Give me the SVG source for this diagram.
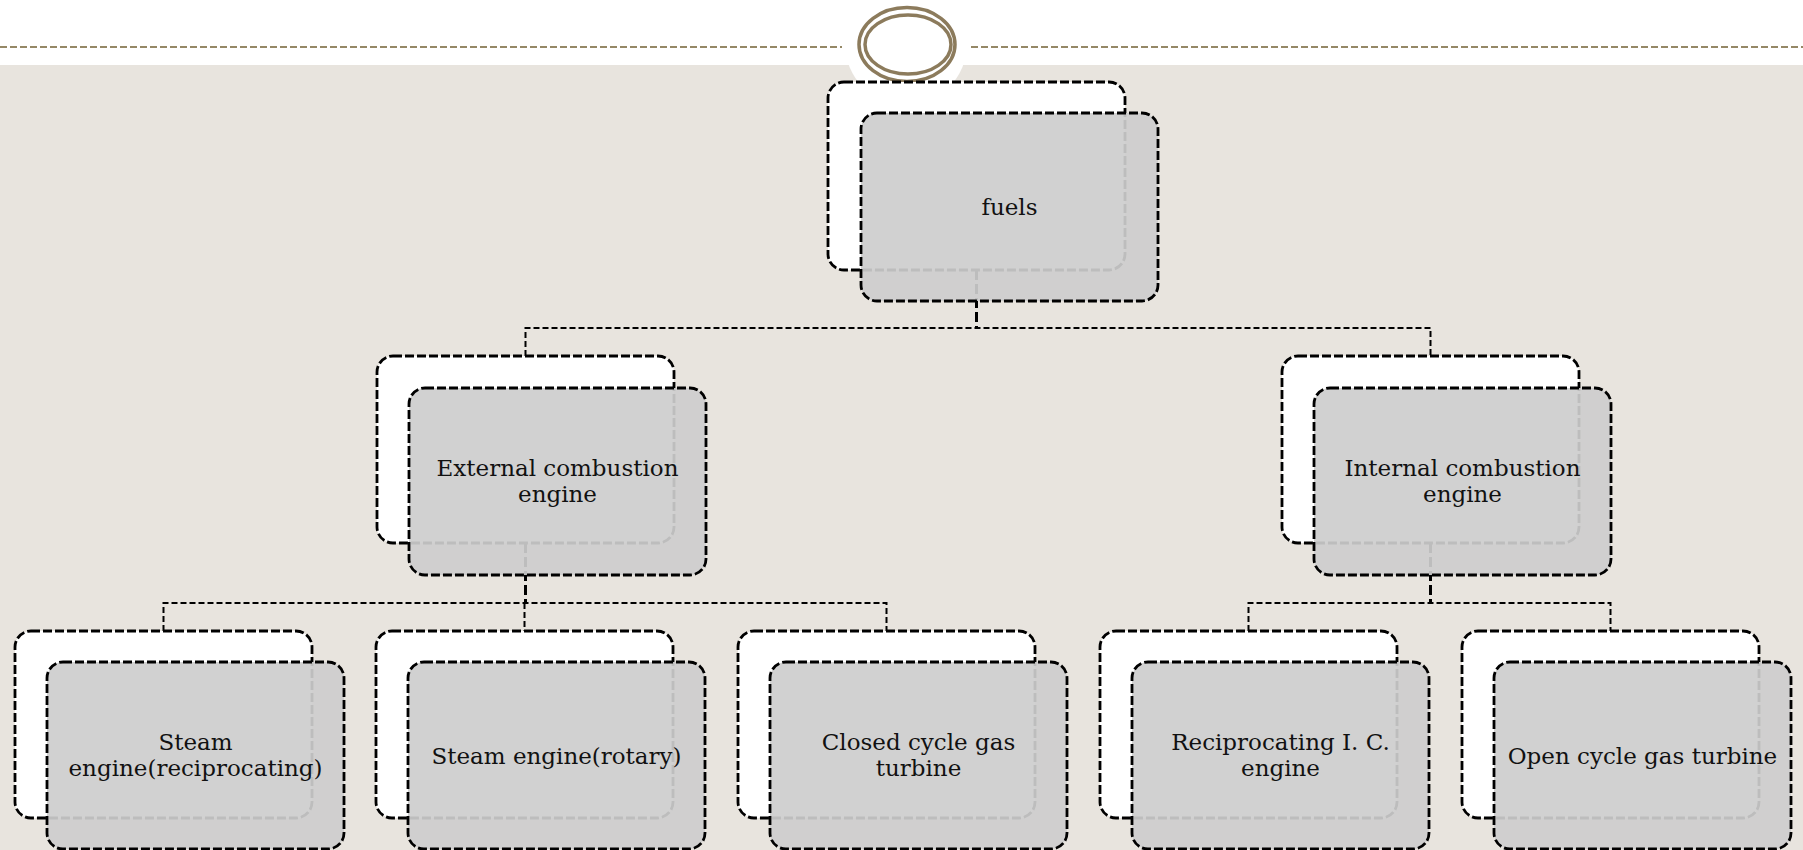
<svg xmlns="http://www.w3.org/2000/svg" width="1803" height="850" viewBox="0 0 1803 850">
<style>
.back{fill:#ffffff;stroke:#000;stroke-width:2.8;stroke-dasharray:9 3}
.front{fill:#cdcdcd;fill-opacity:0.92;stroke:#000;stroke-width:2.8;stroke-dasharray:9 3}
.conn{fill:none;stroke:#000;stroke-width:2;stroke-dasharray:6 3}
.trunk{fill:none;stroke:#000;stroke-width:3;stroke-dasharray:10 4}
.lbl{font-family:"DejaVu Serif","Liberation Serif",serif;font-size:23px;fill:#111;text-anchor:middle}
.orn{fill:none;stroke:#8c7b5c;stroke-width:3.5}
</style>
<rect x="0" y="0" width="1803" height="850" fill="#ffffff"/>
<rect x="0" y="65" width="1803" height="785" fill="#e8e4de"/>
<circle cx="906" cy="44" r="61" fill="#ffffff"/>
<g id="header">
<line x1="0" y1="47" x2="842" y2="47" stroke="#958866" stroke-width="2" stroke-dasharray="7 3"/>
<line x1="971" y1="47" x2="1803" y2="47" stroke="#958866" stroke-width="2" stroke-dasharray="7 3"/>
<ellipse class="orn" cx="907" cy="44.5" rx="48" ry="37"/>
<ellipse class="orn" cx="908" cy="44.5" rx="43" ry="29.5"/>
</g>
<g id="backs">
<rect class="back" x="828" y="82" width="297" height="188" rx="16"/>
<rect class="back" x="377" y="356" width="297" height="187" rx="16"/>
<rect class="back" x="1282" y="356" width="297" height="187" rx="16"/>
<rect class="back" x="15" y="631" width="297" height="187" rx="16"/>
<rect class="back" x="376" y="631" width="297" height="187" rx="16"/>
<rect class="back" x="738" y="631" width="297" height="187" rx="16"/>
<rect class="back" x="1100" y="631" width="297" height="187" rx="16"/>
<rect class="back" x="1462" y="631" width="297" height="187" rx="16"/>
</g>
<g id="connectors">
<path class="trunk" d="M976.5 270 V328"/>
<path class="conn" d="M525.5 356 V328 H1430.5 V356"/>
<path class="trunk" d="M525.5 543 V603"/>
<path class="conn" d="M163.5 631 V603 H886.5 V631 M524.5 603 V631"/>
<path class="trunk" d="M1430.5 543 V603"/>
<path class="conn" d="M1248.5 631 V603 H1610.5 V631"/>
</g>
<g id="node-fuels">
<rect class="front" x="861" y="113" width="297" height="188" rx="16"/>
<text class="lbl" x="1009.5" y="215">fuels</text>
</g>
<g id="node-external">
<rect class="front" x="409" y="388" width="297" height="187" rx="16"/>
<text class="lbl" x="557.5" y="476">External combustion</text>
<text class="lbl" x="557.5" y="502">engine</text>
</g>
<g id="node-internal">
<rect class="front" x="1314" y="388" width="297" height="187" rx="16"/>
<text class="lbl" x="1462.5" y="476">Internal combustion</text>
<text class="lbl" x="1462.5" y="502">engine</text>
</g>
<g id="node-steam-recip">
<rect class="front" x="47" y="662" width="297" height="187" rx="16"/>
<text class="lbl" x="195.5" y="750">Steam</text>
<text class="lbl" x="195.5" y="776">engine(reciprocating)</text>
</g>
<g id="node-steam-rotary">
<rect class="front" x="408" y="662" width="297" height="187" rx="16"/>
<text class="lbl" x="556.5" y="764">Steam engine(rotary)</text>
</g>
<g id="node-closed-cycle">
<rect class="front" x="770" y="662" width="297" height="187" rx="16"/>
<text class="lbl" x="918.5" y="750">Closed cycle gas</text>
<text class="lbl" x="918.5" y="776">turbine</text>
</g>
<g id="node-recip-ic">
<rect class="front" x="1132" y="662" width="297" height="187" rx="16"/>
<text class="lbl" x="1280.5" y="750">Reciprocating I. C.</text>
<text class="lbl" x="1280.5" y="776">engine</text>
</g>
<g id="node-open-cycle">
<rect class="front" x="1494" y="662" width="297" height="187" rx="16"/>
<text class="lbl" x="1642.5" y="764">Open cycle gas turbine</text>
</g>
</svg>
